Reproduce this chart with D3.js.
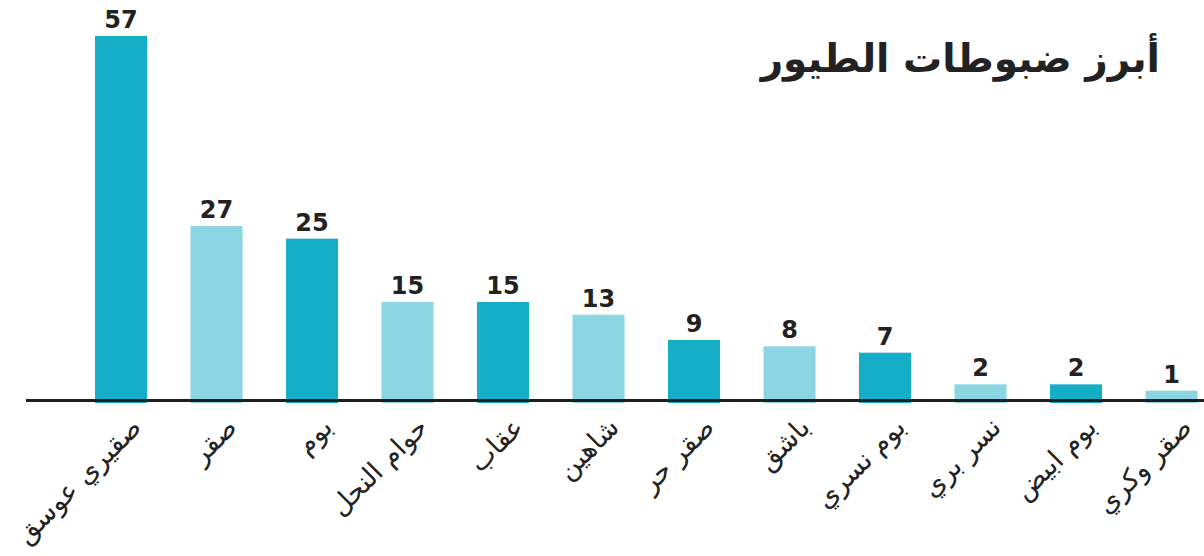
<!DOCTYPE html>
<html>
<head>
<meta charset="utf-8">
<script src="https://cdn.jsdelivr.net/npm/d3@7"></script>
<style>
  body { margin: 0; background: #fff; }
  text { font-family: "DejaVu Sans", "Noto Sans", sans-serif; fill: #222; }
</style>
</head>
<body>
<script>
// sizes
const w = 1204;
const h = 556;

// data
const birds = ["صقيري عوسق", "صقر", "بوم", "حوام النحل", "عقاب", "شاهين", "صقر حر", "باشق", "بوم نسري", "نسر بري", "بوم ابيض", "صقر وكري"];
const counts = [57, 27, 25, 15, 15, 13, 9, 8, 7, 2, 2, 1];
const title = "أبرز ضبوطات الطيور";

const dark = "#16adc6";
const light = "#8bd6e2";

// scales
const xScale = d3.scaleBand()
  .domain(birds)
  .range([47.25, 1245.3])
  .paddingInner(0.455)
  .paddingOuter(0.5);

const yScale = d3.scaleLinear()
  .domain([0, 57])
  .range([397, 36]);

const baseY = 403;

const svg = d3.select("body").append("svg")
  .attr("width", w)
  .attr("height", h);

// bars
svg.selectAll("rect.bar")
  .data(counts)
  .enter()
  .append("rect")
  .attr("class", "bar")
  .attr("x", (d, i) => xScale(birds[i]))
  .attr("y", d => yScale(d))
  .attr("width", xScale.bandwidth())
  .attr("height", d => baseY - yScale(d))
  .attr("fill", (d, i) => i % 2 === 0 ? dark : light);

// value labels
svg.selectAll("text.val")
  .data(counts)
  .enter()
  .append("text")
  .attr("class", "val")
  .attr("x", (d, i) => xScale(birds[i]) + xScale.bandwidth() / 2)
  .attr("y", d => yScale(d) - 8)
  .attr("text-anchor", "middle")
  .style("font-size", "24px")
  .style("font-weight", "bold")
  .text(d => d);

// axis line
svg.append("line")
  .attr("x1", 26).attr("x2", w)
  .attr("y1", 400.5).attr("y2", 400.5)
  .attr("stroke", "#1e1e1e")
  .attr("stroke-width", 3);

// category labels, rotated
svg.selectAll("text.cat")
  .data(birds)
  .enter()
  .append("text")
  .attr("class", "cat")
  .attr("transform", d => "translate(" + (xScale(d) + xScale.bandwidth() / 2 + 22) + ",429) rotate(-45)")
  .attr("text-anchor", "end")
  .style("font-size", "27px")
  .text(d => d);

// title
svg.append("text")
  .attr("x", 1160)
  .attr("y", 72)
  .attr("text-anchor", "end")
  .style("font-size", "39px")
  .style("font-weight", "bold")
  .text(title);
</script>
</body>
</html>
